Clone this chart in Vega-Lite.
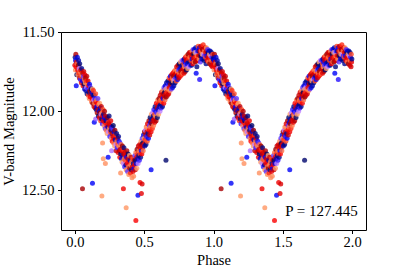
{
"$schema":"https://vega.github.io/schema/vega-lite/v6.json",
"width":305,"height":198,
"autosize":{"type":"none"},
"padding":{"left":61,"top":32,"right":41,"bottom":41},
"background":"white",
"config":{"view":{"stroke":"black","strokeWidth":1},
"axis":{"grid":false,"domain":false,"tickColor":"black","tickSize":3.5,"tickWidth":1,"labelFont":"Liberation Serif","labelFontSize":14.5,"labelColor":"black","titleFont":"Liberation Serif","titleFontSize":14.5,"titleFontWeight":"normal","titleColor":"black"}},
"layer":[
{"data":{"values":[
{"p":0.000,"m":11.71,"c":0.80},{"p":0.002,"m":11.66,"c":0.10},{"p":0.004,"m":11.74,"c":0.57},{"p":0.005,"m":11.68,"c":0.24},{"p":0.007,"m":11.64,"c":0.90},{"p":0.009,"m":11.72,"c":0.76},{"p":0.010,"m":11.84,"c":0.24},{"p":0.012,"m":11.69,"c":0.84},{"p":0.014,"m":11.77,"c":0.04},{"p":0.016,"m":11.70,"c":0.62},{"p":0.018,"m":11.66,"c":0.20},{"p":0.020,"m":11.74,"c":0.78},{"p":0.022,"m":11.77,"c":0.54},{"p":0.025,"m":11.71,"c":0.95},{"p":0.027,"m":11.68,"c":0.15},{"p":0.029,"m":11.76,"c":0.72},{"p":0.031,"m":11.73,"c":0.40},{"p":0.033,"m":11.79,"c":0.86},{"p":0.035,"m":11.70,"c":0.08},{"p":0.038,"m":11.75,"c":0.60},{"p":0.040,"m":11.80,"c":0.27},{"p":0.042,"m":11.74,"c":0.82},{"p":0.045,"m":11.78,"c":0.68},{"p":0.047,"m":11.82,"c":0.80},{"p":0.049,"m":11.73,"c":0.10},{"p":0.052,"m":11.77,"c":0.57},{"p":0.055,"m":12.49,"c":0.92},{"p":0.055,"m":11.81,"c":0.24},{"p":0.057,"m":11.76,"c":0.90},{"p":0.059,"m":11.84,"c":0.76},{"p":0.062,"m":11.78,"c":0.30},{"p":0.064,"m":11.75,"c":0.84},{"p":0.066,"m":11.83,"c":0.04},{"p":0.068,"m":11.80,"c":0.62},{"p":0.070,"m":11.86,"c":0.20},{"p":0.072,"m":11.77,"c":0.78},{"p":0.075,"m":11.82,"c":0.54},{"p":0.077,"m":11.79,"c":0.95},{"p":0.079,"m":11.87,"c":0.15},{"p":0.082,"m":11.81,"c":0.72},{"p":0.084,"m":11.85,"c":0.40},{"p":0.086,"m":11.78,"c":0.86},{"p":0.088,"m":11.89,"c":0.08},{"p":0.090,"m":11.83,"c":0.60},{"p":0.093,"m":11.86,"c":0.27},{"p":0.095,"m":11.81,"c":0.82},{"p":0.097,"m":11.90,"c":0.68},{"p":0.100,"m":11.84,"c":0.80},{"p":0.102,"m":11.88,"c":0.10},{"p":0.104,"m":11.92,"c":0.57},{"p":0.106,"m":11.83,"c":0.24},{"p":0.108,"m":11.87,"c":0.90},{"p":0.111,"m":11.91,"c":0.76},{"p":0.113,"m":11.85,"c":0.30},{"p":0.115,"m":11.89,"c":0.84},{"p":0.118,"m":11.86,"c":0.04},{"p":0.120,"m":11.94,"c":0.62},{"p":0.122,"m":11.88,"c":0.20},{"p":0.125,"m":11.92,"c":0.78},{"p":0.127,"m":12.455,"c":0.24},{"p":0.127,"m":11.86,"c":0.54},{"p":0.129,"m":11.95,"c":0.95},{"p":0.131,"m":11.90,"c":0.15},{"p":0.134,"m":11.87,"c":0.72},{"p":0.136,"m":11.93,"c":0.40},{"p":0.138,"m":11.97,"c":0.86},{"p":0.140,"m":12.07,"c":0.24},{"p":0.140,"m":11.90,"c":0.08},{"p":0.143,"m":11.95,"c":0.60},{"p":0.145,"m":11.92,"c":0.27},{"p":0.147,"m":11.98,"c":0.82},{"p":0.150,"m":12.05,"c":0.36},{"p":0.150,"m":11.89,"c":0.68},{"p":0.152,"m":11.94,"c":0.80},{"p":0.154,"m":11.99,"c":0.10},{"p":0.157,"m":11.93,"c":0.57},{"p":0.159,"m":11.97,"c":0.24},{"p":0.161,"m":12.01,"c":0.90},{"p":0.163,"m":11.95,"c":0.76},{"p":0.166,"m":11.92,"c":0.30},{"p":0.168,"m":11.99,"c":0.84},{"p":0.170,"m":12.03,"c":0.04},{"p":0.172,"m":11.96,"c":0.62},{"p":0.175,"m":12.00,"c":0.20},{"p":0.177,"m":12.04,"c":0.78},{"p":0.179,"m":11.95,"c":0.54},{"p":0.182,"m":12.01,"c":0.95},{"p":0.184,"m":11.98,"c":0.15},{"p":0.186,"m":12.06,"c":0.72},{"p":0.189,"m":12.02,"c":0.40},{"p":0.191,"m":11.97,"c":0.86},{"p":0.193,"m":12.05,"c":0.08},{"p":0.195,"m":12.535,"c":0.55},{"p":0.196,"m":12.01,"c":0.60},{"p":0.198,"m":12.08,"c":0.27},{"p":0.200,"m":12.20,"c":0.56},{"p":0.200,"m":12.03,"c":0.82},{"p":0.203,"m":11.99,"c":0.68},{"p":0.205,"m":12.30,"c":0.55},{"p":0.205,"m":12.06,"c":0.80},{"p":0.207,"m":12.02,"c":0.10},{"p":0.210,"m":12.09,"c":0.57},{"p":0.212,"m":12.04,"c":0.24},{"p":0.214,"m":12.00,"c":0.90},{"p":0.217,"m":12.07,"c":0.76},{"p":0.219,"m":12.11,"c":0.30},{"p":0.220,"m":12.33,"c":0.56},{"p":0.221,"m":12.03,"c":0.84},{"p":0.224,"m":12.06,"c":0.04},{"p":0.226,"m":12.12,"c":0.62},{"p":0.228,"m":12.05,"c":0.20},{"p":0.231,"m":12.09,"c":0.78},{"p":0.233,"m":12.14,"c":0.54},{"p":0.235,"m":12.04,"c":0.95},{"p":0.238,"m":12.10,"c":0.15},{"p":0.240,"m":12.29,"c":0.24},{"p":0.240,"m":12.07,"c":0.72},{"p":0.242,"m":12.13,"c":0.40},{"p":0.245,"m":12.08,"c":0.86},{"p":0.247,"m":12.03,"c":0.08},{"p":0.249,"m":12.11,"c":0.60},{"p":0.252,"m":12.16,"c":0.27},{"p":0.254,"m":12.09,"c":0.82},{"p":0.256,"m":12.13,"c":0.68},{"p":0.259,"m":12.06,"c":0.80},{"p":0.261,"m":12.12,"c":0.10},{"p":0.263,"m":12.17,"c":0.57},{"p":0.265,"m":12.25,"c":0.38},{"p":0.266,"m":12.10,"c":0.24},{"p":0.268,"m":12.14,"c":0.90},{"p":0.270,"m":12.19,"c":0.76},{"p":0.273,"m":12.11,"c":0.30},{"p":0.275,"m":12.16,"c":0.84},{"p":0.277,"m":12.09,"c":0.04},{"p":0.280,"m":12.20,"c":0.62},{"p":0.282,"m":12.13,"c":0.20},{"p":0.284,"m":12.17,"c":0.78},{"p":0.287,"m":12.22,"c":0.54},{"p":0.289,"m":12.12,"c":0.95},{"p":0.291,"m":12.18,"c":0.15},{"p":0.294,"m":12.15,"c":0.72},{"p":0.296,"m":12.21,"c":0.40},{"p":0.298,"m":12.25,"c":0.86},{"p":0.301,"m":12.14,"c":0.08},{"p":0.303,"m":12.19,"c":0.60},{"p":0.305,"m":12.23,"c":0.27},{"p":0.308,"m":12.17,"c":0.82},{"p":0.310,"m":12.21,"c":0.68},{"p":0.312,"m":12.26,"c":0.80},{"p":0.315,"m":12.16,"c":0.10},{"p":0.317,"m":12.22,"c":0.57},{"p":0.319,"m":12.19,"c":0.24},{"p":0.322,"m":12.25,"c":0.90},{"p":0.324,"m":12.29,"c":0.76},{"p":0.326,"m":12.20,"c":0.30},{"p":0.328,"m":12.24,"c":0.84},{"p":0.330,"m":12.39,"c":0.56},{"p":0.331,"m":12.27,"c":0.04},{"p":0.333,"m":12.21,"c":0.62},{"p":0.336,"m":12.30,"c":0.20},{"p":0.338,"m":12.25,"c":0.78},{"p":0.340,"m":12.32,"c":0.54},{"p":0.343,"m":12.22,"c":0.95},{"p":0.345,"m":12.28,"c":0.15},{"p":0.347,"m":12.24,"c":0.72},{"p":0.350,"m":12.49,"c":0.78},{"p":0.350,"m":12.33,"c":0.40},{"p":0.352,"m":12.27,"c":0.86},{"p":0.354,"m":12.23,"c":0.08},{"p":0.356,"m":12.30,"c":0.60},{"p":0.359,"m":12.35,"c":0.27},{"p":0.361,"m":12.26,"c":0.82},{"p":0.363,"m":12.31,"c":0.68},{"p":0.366,"m":12.28,"c":0.80},{"p":0.368,"m":12.34,"c":0.10},{"p":0.370,"m":12.61,"c":0.55},{"p":0.370,"m":12.37,"c":0.57},{"p":0.373,"m":12.29,"c":0.24},{"p":0.375,"m":12.25,"c":0.90},{"p":0.377,"m":12.33,"c":0.76},{"p":0.380,"m":12.38,"c":0.30},{"p":0.382,"m":12.30,"c":0.84},{"p":0.384,"m":12.27,"c":0.04},{"p":0.387,"m":12.35,"c":0.62},{"p":0.389,"m":12.40,"c":0.57},{"p":0.391,"m":12.32,"c":0.78},{"p":0.394,"m":12.28,"c":0.54},{"p":0.396,"m":12.36,"c":0.95},{"p":0.398,"m":12.31,"c":0.15},{"p":0.401,"m":12.39,"c":0.72},{"p":0.403,"m":12.34,"c":0.60},{"p":0.405,"m":12.29,"c":0.86},{"p":0.408,"m":12.37,"c":0.08},{"p":0.410,"m":12.32,"c":0.60},{"p":0.412,"m":12.42,"c":0.56},{"p":0.415,"m":12.35,"c":0.82},{"p":0.417,"m":12.30,"c":0.68},{"p":0.419,"m":12.38,"c":0.80},{"p":0.422,"m":12.33,"c":0.10},{"p":0.424,"m":12.41,"c":0.57},{"p":0.426,"m":12.36,"c":0.24},{"p":0.429,"m":12.31,"c":0.90},{"p":0.440,"m":12.69,"c":0.76},
{"p":0.431,"m":12.34,"c":0.76},{"p":0.433,"m":12.28,"c":0.30},{"p":0.436,"m":12.37,"c":0.84},{"p":0.438,"m":12.31,"c":0.04},{"p":0.440,"m":12.26,"c":0.62},{"p":0.443,"m":12.33,"c":0.20},{"p":0.445,"m":12.29,"c":0.78},{"p":0.447,"m":12.36,"c":0.54},{"p":0.449,"m":12.24,"c":0.95},{"p":0.452,"m":12.30,"c":0.15},{"p":0.454,"m":12.27,"c":0.72},{"p":0.455,"m":12.53,"c":0.24},{"p":0.456,"m":12.33,"c":0.40},{"p":0.458,"m":12.22,"c":0.86},{"p":0.461,"m":12.28,"c":0.08},{"p":0.463,"m":12.25,"c":0.60},{"p":0.465,"m":12.31,"c":0.27},{"p":0.468,"m":12.21,"c":0.82},{"p":0.470,"m":12.45,"c":0.78},{"p":0.470,"m":12.27,"c":0.68},{"p":0.472,"m":12.23,"c":0.80},{"p":0.474,"m":12.29,"c":0.10},{"p":0.477,"m":12.19,"c":0.57},{"p":0.479,"m":12.25,"c":0.24},{"p":0.480,"m":12.52,"c":0.80},{"p":0.481,"m":12.21,"c":0.90},{"p":0.483,"m":12.27,"c":0.76},{"p":0.485,"m":12.46,"c":0.82},{"p":0.486,"m":12.17,"c":0.30},{"p":0.488,"m":12.23,"c":0.84},{"p":0.490,"m":12.20,"c":0.04},{"p":0.493,"m":12.25,"c":0.62},{"p":0.495,"m":12.15,"c":0.20},{"p":0.497,"m":12.21,"c":0.78},{"p":0.500,"m":12.17,"c":0.54},{"p":0.502,"m":12.13,"c":0.95},{"p":0.504,"m":12.22,"c":0.15},{"p":0.506,"m":12.18,"c":0.72},{"p":0.509,"m":12.12,"c":0.40},{"p":0.511,"m":12.15,"c":0.86},{"p":0.513,"m":12.21,"c":0.08},{"p":0.515,"m":12.10,"c":0.60},{"p":0.518,"m":12.16,"c":0.27},{"p":0.520,"m":12.13,"c":0.82},{"p":0.522,"m":12.19,"c":0.68},{"p":0.524,"m":12.08,"c":0.80},{"p":0.527,"m":12.14,"c":0.10},{"p":0.529,"m":12.11,"c":0.57},{"p":0.531,"m":12.17,"c":0.24},{"p":0.534,"m":12.06,"c":0.90},{"p":0.536,"m":12.12,"c":0.76},{"p":0.538,"m":12.09,"c":0.30},{"p":0.540,"m":12.15,"c":0.84},{"p":0.543,"m":12.04,"c":0.04},{"p":0.545,"m":12.10,"c":0.62},{"p":0.547,"m":12.07,"c":0.20},{"p":0.550,"m":12.37,"c":0.24},{"p":0.550,"m":12.13,"c":0.78},{"p":0.552,"m":12.02,"c":0.54},{"p":0.554,"m":12.08,"c":0.95},{"p":0.556,"m":12.05,"c":0.15},{"p":0.559,"m":12.11,"c":0.72},{"p":0.561,"m":12.01,"c":0.40},{"p":0.563,"m":12.06,"c":0.86},{"p":0.566,"m":12.03,"c":0.08},{"p":0.568,"m":12.09,"c":0.60},{"p":0.570,"m":11.99,"c":0.27},{"p":0.572,"m":12.05,"c":0.82},{"p":0.575,"m":12.02,"c":0.68},{"p":0.577,"m":12.07,"c":0.80},{"p":0.579,"m":11.97,"c":0.10},{"p":0.582,"m":12.03,"c":0.57},{"p":0.584,"m":12.00,"c":0.24},{"p":0.586,"m":12.06,"c":0.90},{"p":0.588,"m":11.95,"c":0.76},{"p":0.591,"m":12.01,"c":0.30},{"p":0.593,"m":11.98,"c":0.84},{"p":0.595,"m":12.04,"c":0.04},{"p":0.598,"m":11.93,"c":0.62},{"p":0.600,"m":11.99,"c":0.20},{"p":0.602,"m":11.96,"c":0.78},{"p":0.604,"m":12.02,"c":0.54},{"p":0.607,"m":11.92,"c":0.95},{"p":0.609,"m":11.97,"c":0.15},{"p":0.611,"m":11.94,"c":0.72},{"p":0.614,"m":12.00,"c":0.40},{"p":0.616,"m":11.90,"c":0.86},{"p":0.618,"m":11.96,"c":0.08},{"p":0.620,"m":11.93,"c":0.60},{"p":0.623,"m":11.98,"c":0.27},{"p":0.625,"m":11.88,"c":0.82},{"p":0.627,"m":11.94,"c":0.68},{"p":0.630,"m":11.91,"c":0.80},{"p":0.632,"m":11.97,"c":0.10},{"p":0.634,"m":11.87,"c":0.57},{"p":0.636,"m":11.92,"c":0.24},{"p":0.639,"m":11.89,"c":0.90},{"p":0.641,"m":11.95,"c":0.76},{"p":0.643,"m":11.85,"c":0.30},{"p":0.646,"m":11.91,"c":0.84},{"p":0.648,"m":11.88,"c":0.04},{"p":0.650,"m":11.93,"c":0.62},{"p":0.652,"m":11.84,"c":0.20},{"p":0.655,"m":11.89,"c":0.78},{"p":0.657,"m":12.31,"c":0.05},{"p":0.657,"m":11.86,"c":0.54},{"p":0.659,"m":11.91,"c":0.95},{"p":0.661,"m":11.82,"c":0.15},{"p":0.664,"m":11.88,"c":0.72},{"p":0.666,"m":11.85,"c":0.40},{"p":0.668,"m":11.90,"c":0.86},{"p":0.671,"m":11.81,"c":0.08},{"p":0.673,"m":11.86,"c":0.60},{"p":0.675,"m":11.83,"c":0.27},{"p":0.677,"m":11.89,"c":0.82},{"p":0.680,"m":11.79,"c":0.68},{"p":0.682,"m":11.85,"c":0.80},{"p":0.684,"m":11.82,"c":0.10},{"p":0.687,"m":11.87,"c":0.57},{"p":0.689,"m":11.78,"c":0.24},{"p":0.691,"m":11.83,"c":0.90},{"p":0.693,"m":11.80,"c":0.76},{"p":0.696,"m":11.86,"c":0.30},{"p":0.698,"m":11.77,"c":0.84},{"p":0.700,"m":11.82,"c":0.04},{"p":0.703,"m":11.79,"c":0.62},{"p":0.705,"m":11.85,"c":0.20},{"p":0.707,"m":11.76,"c":0.78},{"p":0.709,"m":11.81,"c":0.54},{"p":0.712,"m":11.78,"c":0.95},{"p":0.714,"m":11.84,"c":0.15},{"p":0.716,"m":11.75,"c":0.72},{"p":0.719,"m":11.80,"c":0.40},{"p":0.721,"m":11.77,"c":0.86},{"p":0.723,"m":11.82,"c":0.08},{"p":0.725,"m":11.74,"c":0.60},{"p":0.728,"m":11.79,"c":0.27},{"p":0.730,"m":11.76,"c":0.82},{"p":0.732,"m":11.81,"c":0.68},{"p":0.734,"m":11.72,"c":0.80},{"p":0.737,"m":11.78,"c":0.10},{"p":0.739,"m":11.75,"c":0.57},{"p":0.741,"m":11.80,"c":0.24},{"p":0.744,"m":11.71,"c":0.90},{"p":0.746,"m":11.77,"c":0.76},{"p":0.748,"m":11.74,"c":0.30},{"p":0.750,"m":11.79,"c":0.84},{"p":0.753,"m":11.70,"c":0.04},{"p":0.755,"m":11.76,"c":0.62},{"p":0.757,"m":11.73,"c":0.20},{"p":0.760,"m":11.78,"c":0.78},{"p":0.762,"m":11.69,"c":0.54},{"p":0.764,"m":11.75,"c":0.95},{"p":0.766,"m":11.72,"c":0.15},{"p":0.769,"m":11.77,"c":0.72},{"p":0.771,"m":11.68,"c":0.40},{"p":0.773,"m":11.74,"c":0.86},{"p":0.775,"m":11.71,"c":0.08},{"p":0.778,"m":11.76,"c":0.60},{"p":0.780,"m":11.68,"c":0.27},{"p":0.782,"m":11.73,"c":0.82},{"p":0.785,"m":11.70,"c":0.68},{"p":0.787,"m":11.76,"c":0.80},{"p":0.789,"m":11.67,"c":0.10},{"p":0.791,"m":11.72,"c":0.57},{"p":0.794,"m":11.69,"c":0.24},{"p":0.796,"m":11.75,"c":0.90},{"p":0.798,"m":11.66,"c":0.76},{"p":0.801,"m":11.71,"c":0.30},{"p":0.803,"m":11.68,"c":0.84},{"p":0.805,"m":11.74,"c":0.04},{"p":0.807,"m":11.65,"c":0.62},{"p":0.810,"m":11.70,"c":0.20},{"p":0.812,"m":11.67,"c":0.78},{"p":0.814,"m":11.73,"c":0.54},{"p":0.817,"m":11.64,"c":0.95},{"p":0.819,"m":11.69,"c":0.15},{"p":0.821,"m":11.67,"c":0.72},{"p":0.823,"m":11.72,"c":0.40},{"p":0.826,"m":11.63,"c":0.86},{"p":0.828,"m":11.69,"c":0.08},{"p":0.830,"m":11.66,"c":0.60},{"p":0.833,"m":11.71,"c":0.27},{"p":0.835,"m":11.63,"c":0.82},{"p":0.837,"m":11.68,"c":0.68},{"p":0.839,"m":11.65,"c":0.80},{"p":0.842,"m":11.71,"c":0.10},{"p":0.844,"m":11.62,"c":0.57},{"p":0.846,"m":11.67,"c":0.24},{"p":0.848,"m":11.64,"c":0.90},{"p":0.851,"m":11.70,"c":0.76},{"p":0.853,"m":11.61,"c":0.30},{"p":0.855,"m":11.67,"c":0.84},{"p":0.858,"m":11.64,"c":0.04},{"p":0.860,"m":11.69,"c":0.62},{"p":0.862,"m":11.61,"c":0.20},{"p":0.864,"m":11.66,"c":0.78},{"p":0.867,"m":11.63,"c":0.54},{"p":0.869,"m":11.69,"c":0.95},{"p":0.871,"m":11.60,"c":0.15},{"p":0.873,"m":11.66,"c":0.72},{"p":0.875,"m":11.76,"c":0.24},{"p":0.876,"m":11.63,"c":0.40},{"p":0.878,"m":11.68,"c":0.86},{"p":0.880,"m":11.72,"c":0.08},{"p":0.882,"m":11.65,"c":0.60},{"p":0.885,"m":11.62,"c":0.27},{"p":0.887,"m":11.68,"c":0.82},{"p":0.889,"m":11.59,"c":0.68},{"p":0.892,"m":11.65,"c":0.80},{"p":0.894,"m":11.62,"c":0.10},{"p":0.896,"m":11.67,"c":0.57},{"p":0.899,"m":11.60,"c":0.24},{"p":0.900,"m":11.80,"c":0.26},{"p":0.901,"m":11.65,"c":0.90},{"p":0.903,"m":11.62,"c":0.76},{"p":0.905,"m":11.69,"c":0.30},{"p":0.908,"m":11.59,"c":0.84},{"p":0.910,"m":11.65,"c":0.04},{"p":0.912,"m":11.62,"c":0.62},{"p":0.915,"m":11.67,"c":0.20},{"p":0.917,"m":11.60,"c":0.78},{"p":0.919,"m":11.64,"c":0.54},{"p":0.921,"m":11.61,"c":0.95},{"p":0.924,"m":11.67,"c":0.15},{"p":0.926,"m":11.58,"c":0.72},{"p":0.928,"m":11.64,"c":0.40},{"p":0.930,"m":11.61,"c":0.86},{"p":0.933,"m":11.68,"c":0.08},{"p":0.935,"m":11.62,"c":0.60},{"p":0.937,"m":11.65,"c":0.27},{"p":0.940,"m":11.60,"c":0.82},{"p":0.942,"m":11.66,"c":0.68},{"p":0.944,"m":11.63,"c":0.80},{"p":0.946,"m":11.70,"c":0.10},{"p":0.949,"m":11.60,"c":0.57},{"p":0.951,"m":11.65,"c":0.24},{"p":0.953,"m":11.62,"c":0.90},{"p":0.955,"m":11.68,"c":0.76},{"p":0.958,"m":11.61,"c":0.30},{"p":0.960,"m":11.66,"c":0.84},{"p":0.962,"m":11.63,"c":0.04},{"p":0.964,"m":11.69,"c":0.62},{"p":0.967,"m":11.62,"c":0.20},{"p":0.969,"m":11.66,"c":0.78},{"p":0.971,"m":11.64,"c":0.54},{"p":0.973,"m":11.70,"c":0.95},{"p":0.976,"m":11.62,"c":0.15},{"p":0.978,"m":11.67,"c":0.72},{"p":0.980,"m":11.65,"c":0.40},{"p":0.983,"m":11.71,"c":0.86},{"p":0.985,"m":11.63,"c":0.08},{"p":0.987,"m":11.68,"c":0.60},{"p":0.989,"m":11.66,"c":0.27},{"p":0.992,"m":11.72,"c":0.82},{"p":0.994,"m":11.64,"c":0.68},{"p":0.996,"m":11.69,"c":0.80},{"p":0.998,"m":11.67,"c":0.10},
{"p":1.000,"m":11.71,"c":0.80},{"p":1.002,"m":11.66,"c":0.10},{"p":1.004,"m":11.74,"c":0.57},{"p":1.005,"m":11.68,"c":0.24},{"p":1.007,"m":11.64,"c":0.90},{"p":1.009,"m":11.72,"c":0.76},{"p":1.010,"m":11.84,"c":0.24},{"p":1.012,"m":11.69,"c":0.84},{"p":1.014,"m":11.77,"c":0.04},{"p":1.016,"m":11.70,"c":0.62},{"p":1.018,"m":11.66,"c":0.20},{"p":1.020,"m":11.74,"c":0.78},{"p":1.022,"m":11.77,"c":0.54},{"p":1.025,"m":11.71,"c":0.95},{"p":1.027,"m":11.68,"c":0.15},{"p":1.029,"m":11.76,"c":0.72},{"p":1.031,"m":11.73,"c":0.40},{"p":1.033,"m":11.79,"c":0.86},{"p":1.035,"m":11.70,"c":0.08},{"p":1.038,"m":11.75,"c":0.60},{"p":1.040,"m":11.80,"c":0.27},{"p":1.042,"m":11.74,"c":0.82},{"p":1.045,"m":11.78,"c":0.68},{"p":1.047,"m":11.82,"c":0.80},{"p":1.049,"m":11.73,"c":0.10},{"p":1.052,"m":11.77,"c":0.57},{"p":1.055,"m":12.49,"c":0.92},{"p":1.055,"m":11.81,"c":0.24},{"p":1.057,"m":11.76,"c":0.90},{"p":1.059,"m":11.84,"c":0.76},{"p":1.062,"m":11.78,"c":0.30},{"p":1.064,"m":11.75,"c":0.84},{"p":1.066,"m":11.83,"c":0.04},{"p":1.068,"m":11.80,"c":0.62},{"p":1.070,"m":11.86,"c":0.20},{"p":1.072,"m":11.77,"c":0.78},{"p":1.075,"m":11.82,"c":0.54},{"p":1.077,"m":11.79,"c":0.95},{"p":1.079,"m":11.87,"c":0.15},{"p":1.082,"m":11.81,"c":0.72},{"p":1.084,"m":11.85,"c":0.40},{"p":1.086,"m":11.78,"c":0.86},{"p":1.088,"m":11.89,"c":0.08},{"p":1.090,"m":11.83,"c":0.60},{"p":1.093,"m":11.86,"c":0.27},{"p":1.095,"m":11.81,"c":0.82},{"p":1.097,"m":11.90,"c":0.68},{"p":1.100,"m":11.84,"c":0.80},{"p":1.102,"m":11.88,"c":0.10},{"p":1.104,"m":11.92,"c":0.57},{"p":1.106,"m":11.83,"c":0.24},{"p":1.108,"m":11.87,"c":0.90},{"p":1.111,"m":11.91,"c":0.76},{"p":1.113,"m":11.85,"c":0.30},{"p":1.115,"m":11.89,"c":0.84},{"p":1.118,"m":11.86,"c":0.04},{"p":1.120,"m":11.94,"c":0.62},{"p":1.122,"m":11.88,"c":0.20},{"p":1.125,"m":11.92,"c":0.78},{"p":1.127,"m":12.455,"c":0.24},{"p":1.127,"m":11.86,"c":0.54},{"p":1.129,"m":11.95,"c":0.95},{"p":1.131,"m":11.90,"c":0.15},{"p":1.134,"m":11.87,"c":0.72},{"p":1.136,"m":11.93,"c":0.40},{"p":1.138,"m":11.97,"c":0.86},{"p":1.140,"m":12.07,"c":0.24},{"p":1.140,"m":11.90,"c":0.08},{"p":1.143,"m":11.95,"c":0.60},{"p":1.145,"m":11.92,"c":0.27},{"p":1.147,"m":11.98,"c":0.82},{"p":1.150,"m":12.05,"c":0.36},{"p":1.150,"m":11.89,"c":0.68},{"p":1.152,"m":11.94,"c":0.80},{"p":1.154,"m":11.99,"c":0.10},{"p":1.157,"m":11.93,"c":0.57},{"p":1.159,"m":11.97,"c":0.24},{"p":1.161,"m":12.01,"c":0.90},{"p":1.163,"m":11.95,"c":0.76},{"p":1.166,"m":11.92,"c":0.30},{"p":1.168,"m":11.99,"c":0.84},{"p":1.170,"m":12.03,"c":0.04},{"p":1.172,"m":11.96,"c":0.62},{"p":1.175,"m":12.00,"c":0.20},{"p":1.177,"m":12.04,"c":0.78},{"p":1.179,"m":11.95,"c":0.54},{"p":1.182,"m":12.01,"c":0.95},{"p":1.184,"m":11.98,"c":0.15},{"p":1.186,"m":12.06,"c":0.72},{"p":1.189,"m":12.02,"c":0.40},{"p":1.191,"m":11.97,"c":0.86},{"p":1.193,"m":12.05,"c":0.08},{"p":1.195,"m":12.535,"c":0.55},{"p":1.196,"m":12.01,"c":0.60},{"p":1.198,"m":12.08,"c":0.27},{"p":1.200,"m":12.20,"c":0.56},{"p":1.200,"m":12.03,"c":0.82},{"p":1.203,"m":11.99,"c":0.68},{"p":1.205,"m":12.30,"c":0.55},{"p":1.205,"m":12.06,"c":0.80},{"p":1.207,"m":12.02,"c":0.10},{"p":1.210,"m":12.09,"c":0.57},{"p":1.212,"m":12.04,"c":0.24},{"p":1.214,"m":12.00,"c":0.90},{"p":1.217,"m":12.07,"c":0.76},{"p":1.219,"m":12.11,"c":0.30},{"p":1.220,"m":12.33,"c":0.56},{"p":1.221,"m":12.03,"c":0.84},{"p":1.224,"m":12.06,"c":0.04},{"p":1.226,"m":12.12,"c":0.62},{"p":1.228,"m":12.05,"c":0.20},{"p":1.231,"m":12.09,"c":0.78},{"p":1.233,"m":12.14,"c":0.54},{"p":1.235,"m":12.04,"c":0.95},{"p":1.238,"m":12.10,"c":0.15},{"p":1.240,"m":12.29,"c":0.24},{"p":1.240,"m":12.07,"c":0.72},{"p":1.242,"m":12.13,"c":0.40},{"p":1.245,"m":12.08,"c":0.86},{"p":1.247,"m":12.03,"c":0.08},{"p":1.249,"m":12.11,"c":0.60},{"p":1.252,"m":12.16,"c":0.27},{"p":1.254,"m":12.09,"c":0.82},{"p":1.256,"m":12.13,"c":0.68},{"p":1.259,"m":12.06,"c":0.80},{"p":1.261,"m":12.12,"c":0.10},{"p":1.263,"m":12.17,"c":0.57},{"p":1.265,"m":12.25,"c":0.38},{"p":1.266,"m":12.10,"c":0.24},{"p":1.268,"m":12.14,"c":0.90},{"p":1.270,"m":12.19,"c":0.76},{"p":1.273,"m":12.11,"c":0.30},{"p":1.275,"m":12.16,"c":0.84},{"p":1.277,"m":12.09,"c":0.04},{"p":1.280,"m":12.20,"c":0.62},{"p":1.282,"m":12.13,"c":0.20},{"p":1.284,"m":12.17,"c":0.78},{"p":1.287,"m":12.22,"c":0.54},{"p":1.289,"m":12.12,"c":0.95},{"p":1.291,"m":12.18,"c":0.15},{"p":1.294,"m":12.15,"c":0.72},{"p":1.296,"m":12.21,"c":0.40},{"p":1.298,"m":12.25,"c":0.86},{"p":1.301,"m":12.14,"c":0.08},{"p":1.303,"m":12.19,"c":0.60},{"p":1.305,"m":12.23,"c":0.27},{"p":1.308,"m":12.17,"c":0.82},{"p":1.310,"m":12.21,"c":0.68},{"p":1.312,"m":12.26,"c":0.80},{"p":1.315,"m":12.16,"c":0.10},{"p":1.317,"m":12.22,"c":0.57},{"p":1.319,"m":12.19,"c":0.24},{"p":1.322,"m":12.25,"c":0.90},{"p":1.324,"m":12.29,"c":0.76},{"p":1.326,"m":12.20,"c":0.30},{"p":1.328,"m":12.24,"c":0.84},{"p":1.330,"m":12.39,"c":0.56},{"p":1.331,"m":12.27,"c":0.04},{"p":1.333,"m":12.21,"c":0.62},{"p":1.336,"m":12.30,"c":0.20},{"p":1.338,"m":12.25,"c":0.78},{"p":1.340,"m":12.32,"c":0.54},{"p":1.343,"m":12.22,"c":0.95},{"p":1.345,"m":12.28,"c":0.15},{"p":1.347,"m":12.24,"c":0.72},{"p":1.350,"m":12.49,"c":0.78},{"p":1.350,"m":12.33,"c":0.40},{"p":1.352,"m":12.27,"c":0.86},{"p":1.354,"m":12.23,"c":0.08},{"p":1.356,"m":12.30,"c":0.60},{"p":1.359,"m":12.35,"c":0.27},{"p":1.361,"m":12.26,"c":0.82},{"p":1.363,"m":12.31,"c":0.68},{"p":1.366,"m":12.28,"c":0.80},{"p":1.368,"m":12.34,"c":0.10},{"p":1.370,"m":12.61,"c":0.55},{"p":1.370,"m":12.37,"c":0.57},{"p":1.373,"m":12.29,"c":0.24},{"p":1.375,"m":12.25,"c":0.90},{"p":1.377,"m":12.33,"c":0.76},{"p":1.380,"m":12.38,"c":0.30},{"p":1.382,"m":12.30,"c":0.84},{"p":1.384,"m":12.27,"c":0.04},{"p":1.387,"m":12.35,"c":0.62},{"p":1.389,"m":12.40,"c":0.57},{"p":1.391,"m":12.32,"c":0.78},{"p":1.394,"m":12.28,"c":0.54},{"p":1.396,"m":12.36,"c":0.95},{"p":1.398,"m":12.31,"c":0.15},{"p":1.401,"m":12.39,"c":0.72},{"p":1.403,"m":12.34,"c":0.60},{"p":1.405,"m":12.29,"c":0.86},{"p":1.408,"m":12.37,"c":0.08},{"p":1.410,"m":12.32,"c":0.60},{"p":1.412,"m":12.42,"c":0.56},{"p":1.415,"m":12.35,"c":0.82},{"p":1.417,"m":12.30,"c":0.68},{"p":1.419,"m":12.38,"c":0.80},{"p":1.422,"m":12.33,"c":0.10},{"p":1.424,"m":12.41,"c":0.57},{"p":1.426,"m":12.36,"c":0.24},{"p":1.429,"m":12.31,"c":0.90},{"p":1.440,"m":12.69,"c":0.76},
{"p":1.431,"m":12.34,"c":0.76},{"p":1.433,"m":12.28,"c":0.30},{"p":1.436,"m":12.37,"c":0.84},{"p":1.438,"m":12.31,"c":0.04},{"p":1.440,"m":12.26,"c":0.62},{"p":1.443,"m":12.33,"c":0.20},{"p":1.445,"m":12.29,"c":0.78},{"p":1.447,"m":12.36,"c":0.54},{"p":1.449,"m":12.24,"c":0.95},{"p":1.452,"m":12.30,"c":0.15},{"p":1.454,"m":12.27,"c":0.72},{"p":1.455,"m":12.53,"c":0.24},{"p":1.456,"m":12.33,"c":0.40},{"p":1.458,"m":12.22,"c":0.86},{"p":1.461,"m":12.28,"c":0.08},{"p":1.463,"m":12.25,"c":0.60},{"p":1.465,"m":12.31,"c":0.27},{"p":1.468,"m":12.21,"c":0.82},{"p":1.470,"m":12.45,"c":0.78},{"p":1.470,"m":12.27,"c":0.68},{"p":1.472,"m":12.23,"c":0.80},{"p":1.474,"m":12.29,"c":0.10},{"p":1.477,"m":12.19,"c":0.57},{"p":1.479,"m":12.25,"c":0.24},{"p":1.480,"m":12.52,"c":0.80},{"p":1.481,"m":12.21,"c":0.90},{"p":1.483,"m":12.27,"c":0.76},{"p":1.485,"m":12.46,"c":0.82},{"p":1.486,"m":12.17,"c":0.30},{"p":1.488,"m":12.23,"c":0.84},{"p":1.490,"m":12.20,"c":0.04},{"p":1.493,"m":12.25,"c":0.62},{"p":1.495,"m":12.15,"c":0.20},{"p":1.497,"m":12.21,"c":0.78},{"p":1.500,"m":12.17,"c":0.54},{"p":1.502,"m":12.13,"c":0.95},{"p":1.504,"m":12.22,"c":0.15},{"p":1.506,"m":12.18,"c":0.72},{"p":1.509,"m":12.12,"c":0.40},{"p":1.511,"m":12.15,"c":0.86},{"p":1.513,"m":12.21,"c":0.08},{"p":1.515,"m":12.10,"c":0.60},{"p":1.518,"m":12.16,"c":0.27},{"p":1.520,"m":12.13,"c":0.82},{"p":1.522,"m":12.19,"c":0.68},{"p":1.524,"m":12.08,"c":0.80},{"p":1.527,"m":12.14,"c":0.10},{"p":1.529,"m":12.11,"c":0.57},{"p":1.531,"m":12.17,"c":0.24},{"p":1.534,"m":12.06,"c":0.90},{"p":1.536,"m":12.12,"c":0.76},{"p":1.538,"m":12.09,"c":0.30},{"p":1.540,"m":12.15,"c":0.84},{"p":1.543,"m":12.04,"c":0.04},{"p":1.545,"m":12.10,"c":0.62},{"p":1.547,"m":12.07,"c":0.20},{"p":1.550,"m":12.37,"c":0.24},{"p":1.550,"m":12.13,"c":0.78},{"p":1.552,"m":12.02,"c":0.54},{"p":1.554,"m":12.08,"c":0.95},{"p":1.556,"m":12.05,"c":0.15},{"p":1.559,"m":12.11,"c":0.72},{"p":1.561,"m":12.01,"c":0.40},{"p":1.563,"m":12.06,"c":0.86},{"p":1.566,"m":12.03,"c":0.08},{"p":1.568,"m":12.09,"c":0.60},{"p":1.570,"m":11.99,"c":0.27},{"p":1.572,"m":12.05,"c":0.82},{"p":1.575,"m":12.02,"c":0.68},{"p":1.577,"m":12.07,"c":0.80},{"p":1.579,"m":11.97,"c":0.10},{"p":1.582,"m":12.03,"c":0.57},{"p":1.584,"m":12.00,"c":0.24},{"p":1.586,"m":12.06,"c":0.90},{"p":1.588,"m":11.95,"c":0.76},{"p":1.591,"m":12.01,"c":0.30},{"p":1.593,"m":11.98,"c":0.84},{"p":1.595,"m":12.04,"c":0.04},{"p":1.598,"m":11.93,"c":0.62},{"p":1.600,"m":11.99,"c":0.20},{"p":1.602,"m":11.96,"c":0.78},{"p":1.604,"m":12.02,"c":0.54},{"p":1.607,"m":11.92,"c":0.95},{"p":1.609,"m":11.97,"c":0.15},{"p":1.611,"m":11.94,"c":0.72},{"p":1.614,"m":12.00,"c":0.40},{"p":1.616,"m":11.90,"c":0.86},{"p":1.618,"m":11.96,"c":0.08},{"p":1.620,"m":11.93,"c":0.60},{"p":1.623,"m":11.98,"c":0.27},{"p":1.625,"m":11.88,"c":0.82},{"p":1.627,"m":11.94,"c":0.68},{"p":1.630,"m":11.91,"c":0.80},{"p":1.632,"m":11.97,"c":0.10},{"p":1.634,"m":11.87,"c":0.57},{"p":1.636,"m":11.92,"c":0.24},{"p":1.639,"m":11.89,"c":0.90},{"p":1.641,"m":11.95,"c":0.76},{"p":1.643,"m":11.85,"c":0.30},{"p":1.646,"m":11.91,"c":0.84},{"p":1.648,"m":11.88,"c":0.04},{"p":1.650,"m":11.93,"c":0.62},{"p":1.652,"m":11.84,"c":0.20},{"p":1.655,"m":11.89,"c":0.78},{"p":1.657,"m":12.31,"c":0.05},{"p":1.657,"m":11.86,"c":0.54},{"p":1.659,"m":11.91,"c":0.95},{"p":1.661,"m":11.82,"c":0.15},{"p":1.664,"m":11.88,"c":0.72},{"p":1.666,"m":11.85,"c":0.40},{"p":1.668,"m":11.90,"c":0.86},{"p":1.671,"m":11.81,"c":0.08},{"p":1.673,"m":11.86,"c":0.60},{"p":1.675,"m":11.83,"c":0.27},{"p":1.677,"m":11.89,"c":0.82},{"p":1.680,"m":11.79,"c":0.68},{"p":1.682,"m":11.85,"c":0.80},{"p":1.684,"m":11.82,"c":0.10},{"p":1.687,"m":11.87,"c":0.57},{"p":1.689,"m":11.78,"c":0.24},{"p":1.691,"m":11.83,"c":0.90},{"p":1.693,"m":11.80,"c":0.76},{"p":1.696,"m":11.86,"c":0.30},{"p":1.698,"m":11.77,"c":0.84},{"p":1.700,"m":11.82,"c":0.04},{"p":1.703,"m":11.79,"c":0.62},{"p":1.705,"m":11.85,"c":0.20},{"p":1.707,"m":11.76,"c":0.78},{"p":1.709,"m":11.81,"c":0.54},{"p":1.712,"m":11.78,"c":0.95},{"p":1.714,"m":11.84,"c":0.15},{"p":1.716,"m":11.75,"c":0.72},{"p":1.719,"m":11.80,"c":0.40},{"p":1.721,"m":11.77,"c":0.86},{"p":1.723,"m":11.82,"c":0.08},{"p":1.725,"m":11.74,"c":0.60},{"p":1.728,"m":11.79,"c":0.27},{"p":1.730,"m":11.76,"c":0.82},{"p":1.732,"m":11.81,"c":0.68},{"p":1.734,"m":11.72,"c":0.80},{"p":1.737,"m":11.78,"c":0.10},{"p":1.739,"m":11.75,"c":0.57},{"p":1.741,"m":11.80,"c":0.24},{"p":1.744,"m":11.71,"c":0.90},{"p":1.746,"m":11.77,"c":0.76},{"p":1.748,"m":11.74,"c":0.30},{"p":1.750,"m":11.79,"c":0.84},{"p":1.753,"m":11.70,"c":0.04},{"p":1.755,"m":11.76,"c":0.62},{"p":1.757,"m":11.73,"c":0.20},{"p":1.760,"m":11.78,"c":0.78},{"p":1.762,"m":11.69,"c":0.54},{"p":1.764,"m":11.75,"c":0.95},{"p":1.766,"m":11.72,"c":0.15},{"p":1.769,"m":11.77,"c":0.72},{"p":1.771,"m":11.68,"c":0.40},{"p":1.773,"m":11.74,"c":0.86},{"p":1.775,"m":11.71,"c":0.08},{"p":1.778,"m":11.76,"c":0.60},{"p":1.780,"m":11.68,"c":0.27},{"p":1.782,"m":11.73,"c":0.82},{"p":1.785,"m":11.70,"c":0.68},{"p":1.787,"m":11.76,"c":0.80},{"p":1.789,"m":11.67,"c":0.10},{"p":1.791,"m":11.72,"c":0.57},{"p":1.794,"m":11.69,"c":0.24},{"p":1.796,"m":11.75,"c":0.90},{"p":1.798,"m":11.66,"c":0.76},{"p":1.801,"m":11.71,"c":0.30},{"p":1.803,"m":11.68,"c":0.84},{"p":1.805,"m":11.74,"c":0.04},{"p":1.807,"m":11.65,"c":0.62},{"p":1.810,"m":11.70,"c":0.20},{"p":1.812,"m":11.67,"c":0.78},{"p":1.814,"m":11.73,"c":0.54},{"p":1.817,"m":11.64,"c":0.95},{"p":1.819,"m":11.69,"c":0.15},{"p":1.821,"m":11.67,"c":0.72},{"p":1.823,"m":11.72,"c":0.40},{"p":1.826,"m":11.63,"c":0.86},{"p":1.828,"m":11.69,"c":0.08},{"p":1.830,"m":11.66,"c":0.60},{"p":1.833,"m":11.71,"c":0.27},{"p":1.835,"m":11.63,"c":0.82},{"p":1.837,"m":11.68,"c":0.68},{"p":1.839,"m":11.65,"c":0.80},{"p":1.842,"m":11.71,"c":0.10},{"p":1.844,"m":11.62,"c":0.57},{"p":1.846,"m":11.67,"c":0.24},{"p":1.848,"m":11.64,"c":0.90},{"p":1.851,"m":11.70,"c":0.76},{"p":1.853,"m":11.61,"c":0.30},{"p":1.855,"m":11.67,"c":0.84},{"p":1.858,"m":11.64,"c":0.04},{"p":1.860,"m":11.69,"c":0.62},{"p":1.862,"m":11.61,"c":0.20},{"p":1.864,"m":11.66,"c":0.78},{"p":1.867,"m":11.63,"c":0.54},{"p":1.869,"m":11.69,"c":0.95},{"p":1.871,"m":11.60,"c":0.15},{"p":1.873,"m":11.66,"c":0.72},{"p":1.875,"m":11.76,"c":0.24},{"p":1.876,"m":11.63,"c":0.40},{"p":1.878,"m":11.68,"c":0.86},{"p":1.880,"m":11.72,"c":0.08},{"p":1.882,"m":11.65,"c":0.60},{"p":1.885,"m":11.62,"c":0.27},{"p":1.887,"m":11.68,"c":0.82},{"p":1.889,"m":11.59,"c":0.68},{"p":1.892,"m":11.65,"c":0.80},{"p":1.894,"m":11.62,"c":0.10},{"p":1.896,"m":11.67,"c":0.57},{"p":1.899,"m":11.60,"c":0.24},{"p":1.900,"m":11.80,"c":0.26},{"p":1.901,"m":11.65,"c":0.90},{"p":1.903,"m":11.62,"c":0.76},{"p":1.905,"m":11.69,"c":0.30},{"p":1.908,"m":11.59,"c":0.84},{"p":1.910,"m":11.65,"c":0.04},{"p":1.912,"m":11.62,"c":0.62},{"p":1.915,"m":11.67,"c":0.20},{"p":1.917,"m":11.60,"c":0.78},{"p":1.919,"m":11.64,"c":0.54},{"p":1.921,"m":11.61,"c":0.95},{"p":1.924,"m":11.67,"c":0.15},{"p":1.926,"m":11.58,"c":0.72},{"p":1.928,"m":11.64,"c":0.40},{"p":1.930,"m":11.61,"c":0.86},{"p":1.933,"m":11.68,"c":0.08},{"p":1.935,"m":11.62,"c":0.60},{"p":1.937,"m":11.65,"c":0.27},{"p":1.940,"m":11.60,"c":0.82},{"p":1.942,"m":11.66,"c":0.68},{"p":1.944,"m":11.63,"c":0.80},{"p":1.946,"m":11.70,"c":0.10},{"p":1.949,"m":11.60,"c":0.57},{"p":1.951,"m":11.65,"c":0.24},{"p":1.953,"m":11.62,"c":0.90},{"p":1.955,"m":11.68,"c":0.76},{"p":1.958,"m":11.61,"c":0.30},{"p":1.960,"m":11.66,"c":0.84},{"p":1.962,"m":11.63,"c":0.04},{"p":1.964,"m":11.69,"c":0.62},{"p":1.967,"m":11.62,"c":0.20},{"p":1.969,"m":11.66,"c":0.78},{"p":1.971,"m":11.64,"c":0.54},{"p":1.973,"m":11.70,"c":0.95},{"p":1.976,"m":11.62,"c":0.15},{"p":1.978,"m":11.67,"c":0.72},{"p":1.980,"m":11.65,"c":0.40},{"p":1.983,"m":11.71,"c":0.86},{"p":1.985,"m":11.63,"c":0.08},{"p":1.987,"m":11.68,"c":0.60},{"p":1.989,"m":11.66,"c":0.27},{"p":1.992,"m":11.72,"c":0.82},{"p":1.994,"m":11.64,"c":0.68},{"p":1.996,"m":11.69,"c":0.80},{"p":1.998,"m":11.67,"c":0.10}
]},
"mark":{"type":"circle","size":25,"opacity":0.8},
"encoding":{
"x":{"field":"p","type":"quantitative","title":"Phase","scale":{"domain":[-0.1,2.1],"nice":false,"zero":false},"axis":{"values":[0,0.5,1,1.5,2],"format":".1f","labelPadding":2,"titlePadding":4}},
"y":{"field":"m","type":"quantitative","title":"V-band Magnitude","scale":{"domain":[11.5,12.75],"reverse":true,"nice":false,"zero":false},"axis":{"values":[11.5,11.75,12,12.25,12.5,12.75],"format":".2f","labelPadding":3.5,"titlePadding":5}},
"color":{"field":"c","type":"quantitative","scale":{"domain":[0,0.25,0.5,0.75,1],"range":["#00004d","#0000ff","#ffffff","#ff0000","#800000"]},"legend":null}
}},
{"data":{"values":[{"p":2.04,"m":12.633,"t":"P = 127.445"}]},
"mark":{"type":"text","align":"right","baseline":"middle","font":"Liberation Serif","fontSize":15,"color":"black"},
"encoding":{"x":{"field":"p","type":"quantitative"},"y":{"field":"m","type":"quantitative"},"text":{"field":"t"}}}
]
}
